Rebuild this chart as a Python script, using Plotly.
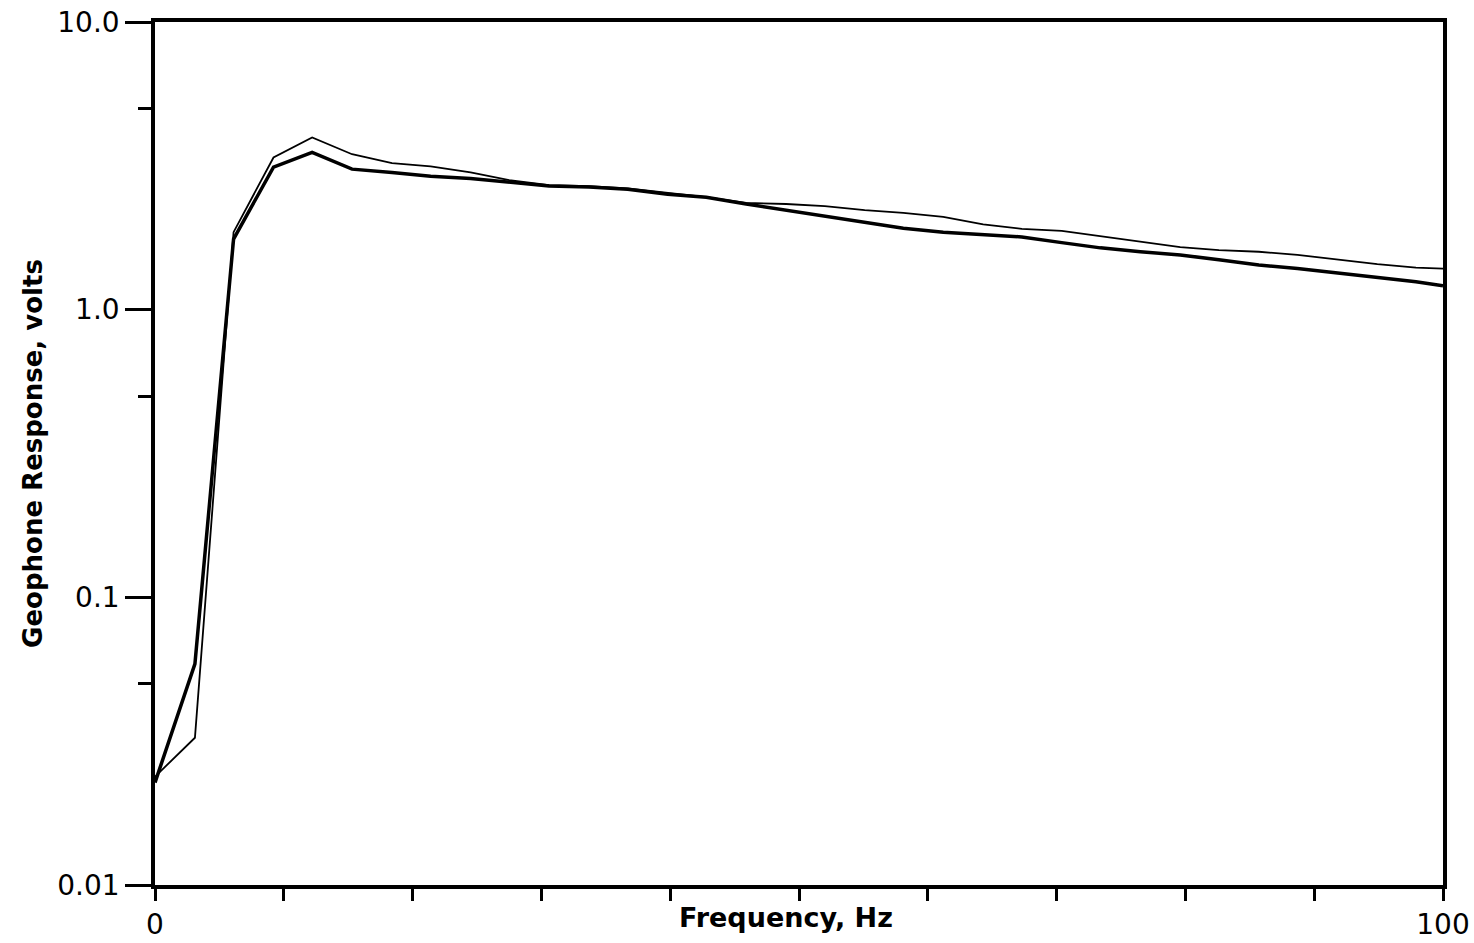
import plotly.graph_objects as go

freq = [0, 3.1, 6.1, 9.2, 12.2, 15.3, 18.4, 21.4, 24.5, 27.5, 30.6, 33.7, 36.7,
        39.8, 42.8, 45.9, 49.0, 52.0, 55.1, 58.1, 61.2, 64.3, 67.3, 70.4, 73.4,
        76.5, 79.6, 82.6, 85.7, 88.7, 91.8, 94.9, 97.9, 100]

thin_resp = [0.0238, 0.0325, 1.86, 3.38, 3.97, 3.47, 3.23, 3.15, 3.00, 2.82, 2.71,
             2.69, 2.64, 2.54, 2.46, 2.35, 2.33, 2.29, 2.22, 2.17, 2.10, 1.98, 1.91,
             1.88, 1.80, 1.72, 1.65, 1.61, 1.59, 1.55, 1.49, 1.44, 1.40, 1.39]

thick_resp = [0.0227, 0.0587, 1.76, 3.13, 3.52, 3.08, 3.00, 2.91, 2.86, 2.77, 2.69,
              2.67, 2.62, 2.52, 2.46, 2.33, 2.22, 2.11, 2.02, 1.92, 1.86, 1.83, 1.79,
              1.71, 1.64, 1.59, 1.55, 1.49, 1.43, 1.39, 1.34, 1.30, 1.25, 1.21]

x_tickvals = [0, 10, 20, 30, 40, 50, 60, 70, 80, 90, 100]
x_ticktext = ["0", "", "", "", "", "", "", "", "", "", "100"]
y_tickvals = [0.01, 0.1, 1, 10]
y_ticktext = ["0.01", "0.1", "1.0", "10.0"]
y_minorvals = [0.05, 0.5, 5]

fig = go.Figure()
fig.add_trace(go.Scatter(x=freq, y=thin_resp, mode="lines",
                         line=dict(color="black", width=1.8), showlegend=False))
fig.add_trace(go.Scatter(x=freq, y=thick_resp, mode="lines",
                         line=dict(color="black", width=3.5), showlegend=False))

font_family = "DejaVu Sans"
fig.update_layout(
    width=1474, height=943,
    margin=dict(l=155, r=31, t=22, b=58),
    paper_bgcolor="white", plot_bgcolor="white",
    font=dict(family=font_family, color="black"),
    xaxis=dict(
        range=[0, 100], tickmode="array", tickvals=x_tickvals, ticktext=x_ticktext,
        ticks="outside", ticklen=12, tickwidth=3, tickcolor="black",
        showline=True, linecolor="black", linewidth=3.5, mirror=True,
        showgrid=False, zeroline=False, automargin=False,
        tickfont=dict(size=28, family=font_family),
    ),
    yaxis=dict(
        type="log", range=[-2, 1], tickmode="array", tickvals=y_tickvals,
        ticktext=y_ticktext, automargin=False,
        ticks="outside", ticklen=26, tickwidth=3, tickcolor="black",
        minor=dict(tickmode="array", tickvals=y_minorvals, ticks="outside",
                   ticklen=13, tickwidth=3, tickcolor="black", showgrid=False),
        showline=True, linecolor="black", linewidth=3.5, mirror=True,
        showgrid=False, zeroline=False,
        tickfont=dict(size=28, family=font_family),
        title=dict(text="Geophone Response, volts", standoff=8,
                   font=dict(size=26, family=font_family, weight="bold")),
    ),
    annotations=[dict(
        text="Frequency, Hz", xref="paper", yref="paper", x=0.49, y=-0.038,
        xanchor="center", yanchor="middle", showarrow=False,
        font=dict(size=27, family=font_family, weight="bold", color="black"),
    )],
)

fig.write_html("out.html")
